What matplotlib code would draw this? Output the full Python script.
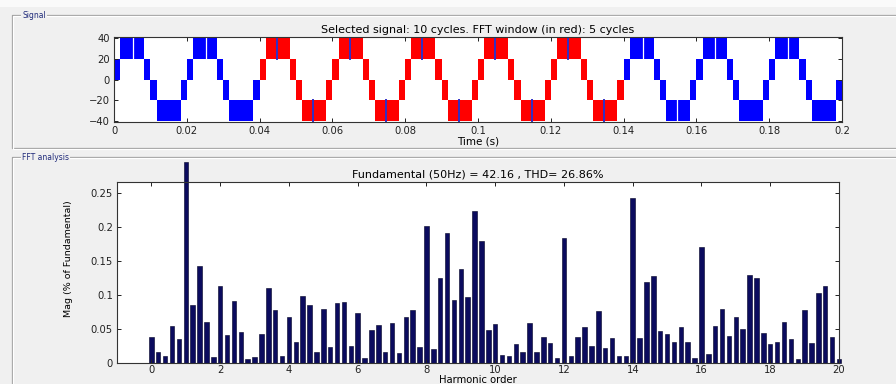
import numpy as np
import matplotlib
matplotlib.use("Agg")
import matplotlib.pyplot as plt
from matplotlib.lines import Line2D
from matplotlib.patches import Rectangle

# ---------------- data ----------------
# Signal: 10 cycles of 50 Hz multilevel PWM waveform (levels -40..40)
cycle_starts = [0.00, 0.02, 0.04, 0.06, 0.08, 0.10, 0.12, 0.14, 0.16, 0.18]
cycle_in_window = [False, False, True, True, True, True, True, False, False, False]
# switching bands within one cycle (ms) and the two levels the PWM chatters between
band_start_ms = [0.0, 1.7, 8.3, 10.0, 11.7, 18.3]
band_end_ms = [1.7, 8.3, 10.0, 11.7, 18.3, 20.0]
band_low = [0, 20, 0, -20, -40, -20]
band_high = [20, 40, 20, 0, -20, 0]
# quiet instants inside the peak bands (ms after cycle start)
blue_gap_pos_ms = 5.2
blue_gap_neg_cycle = 7
blue_gap_neg_ms = 14.8
red_mark_pos_ms = 4.7
red_mark_neg_ms = 14.7

# FFT: harmonic order 0..20 in steps of 0.2
harmonic_order = np.round(np.arange(101) * 0.2, 1)
mag_pct = [
    0.039, 0.017, 0.010, 0.055, 0.036, 0.296, 0.086, 0.143, 0.061, 0.009,
    0.114, 0.041, 0.092, 0.046, 0.007, 0.009, 0.043, 0.110, 0.078, 0.010,
    0.068, 0.032, 0.099, 0.085, 0.017, 0.080, 0.024, 0.088, 0.090, 0.025,
    0.074, 0.008, 0.049, 0.056, 0.016, 0.059, 0.015, 0.068, 0.079, 0.024,
    0.202, 0.021, 0.126, 0.192, 0.093, 0.139, 0.098, 0.224, 0.180, 0.049,
    0.058, 0.012, 0.010, 0.028, 0.016, 0.059, 0.017, 0.038, 0.030, 0.008,
    0.184, 0.010, 0.038, 0.053, 0.025, 0.077, 0.022, 0.037, 0.010, 0.011,
    0.243, 0.037, 0.119, 0.128, 0.048, 0.043, 0.031, 0.053, 0.032, 0.008,
    0.171, 0.014, 0.055, 0.080, 0.040, 0.068, 0.050, 0.130, 0.126, 0.044,
    0.029, 0.032, 0.061, 0.035, 0.006, 0.078, 0.030, 0.103, 0.113, 0.038,
    0.007,
]

sig_title = "Selected signal: 10 cycles. FFT window (in red): 5 cycles"
fft_title = "Fundamental (50Hz) = 42.16 , THD= 26.86%"
time_ticks = [0, 0.02, 0.04, 0.06, 0.08, 0.1, 0.12, 0.14, 0.16, 0.18, 0.2]
time_ticklabels = ["0", "0.02", "0.04", "0.06", "0.08", "0.1", "0.12", "0.14", "0.16", "0.18", "0.2"]
sig_yticks = [-40, -20, 0, 20, 40]
harm_ticks = [0, 2, 4, 6, 8, 10, 12, 14, 16, 18, 20]
mag_ticks = [0, 0.05, 0.1, 0.15, 0.2, 0.25]
mag_ticklabels = ["0", "0.05", "0.1", "0.15", "0.2", "0.25"]

# ---------------- figure ----------------
W, H = 896, 384
BG = "#f0f0f0"
plt.rcParams["font.family"] = ["DejaVu Sans"]
fig = plt.figure(figsize=(W / 100, H / 100), dpi=100, facecolor=BG)

def fx(px):
    return px / W

def fy(py):
    return 1 - py / H

# light strip at very top
fig.add_artist(Rectangle((0, fy(7)), 1, 1 - fy(7), transform=fig.transFigure,
                         facecolor="#fafafa", edgecolor="none"))

# panel frames (etched look)
def frame(x0, y0, x1, y1, label, lx):
    for off, col in ((0, "#a0a0a0"), (1, "#ffffff")):
        xs = [fx(x1), fx(x0 + off), fx(x0 + off), fx(x1)]
        ys = [fy(y0 + off), fy(y0 + off), fy(y1 + off), fy(y1 + off)]
        fig.add_artist(Line2D(xs, ys, color=col, lw=0.9, transform=fig.transFigure))
    fig.text(fx(lx), fy(y0), label, fontsize=5.5, color="#1f2a7a", va="center", ha="left",
             bbox=dict(facecolor=BG, edgecolor="none", pad=1.0))

frame(12, 15, 900, 148, "Signal", 22)
frame(12, 157, 900, 392, "FFT analysis", 22)

# ---------------- signal axes ----------------
ax1 = fig.add_axes([fx(114), fy(122.3), fx(842) - fx(114), fy(36.7) - fy(122.3)])
for t0, inwin in zip(cycle_starts, cycle_in_window):
    col = "#ff0000" if inwin else "#0000ff"
    for a, b, lo, hi in zip(band_start_ms, band_end_ms, band_low, band_high):
        ax1.fill_between([t0 + a / 1000, t0 + b / 1000], lo, hi, color=col, lw=0)
for i, (t0, inwin) in enumerate(zip(cycle_starts, cycle_in_window)):
    if inwin:
        ax1.plot([t0 + red_mark_pos_ms / 1000] * 2, [20, 40], color="#3030c8", lw=1.4)
        ax1.plot([t0 + red_mark_neg_ms / 1000] * 2, [-40, -20], color="#3030c8", lw=1.4)
    else:
        ax1.plot([t0 + blue_gap_pos_ms / 1000] * 2, [20, 40], color="white", lw=0.9)
        if i == blue_gap_neg_cycle:
            ax1.plot([t0 + blue_gap_neg_ms / 1000] * 2, [-40, -20], color="white", lw=0.9)

ax1.set_xlim(0, 0.2)
ax1.set_ylim(-41.5, 41.5)
ax1.set_xticks(time_ticks)
ax1.set_xticklabels(time_ticklabels)
ax1.set_yticks(sig_yticks)
ax1.set_title(sig_title, fontsize=8, pad=3)

# ---------------- FFT axes ----------------
ax2 = fig.add_axes([fx(117), fy(363.3), fx(839) - fx(117), fy(182) - fy(363.3)])
bars = ax2.bar(harmonic_order, mag_pct, width=0.13, color="#0b0b5e", edgecolor="#000022", lw=0.4)
for b in bars:
    b.set_clip_on(False)
ax2.set_xlim(-1, 20)
ax2.set_ylim(0, 0.2666)
ax2.set_xticks(harm_ticks)
ax2.set_yticks(mag_ticks)
ax2.set_yticklabels(mag_ticklabels)
ax2.set_title(fft_title, fontsize=8, pad=3)
ax2.set_ylabel("Mag (% of Fundamental)", fontsize=6.8)
ax2.yaxis.set_label_coords((73 - 117) / 722, (363.3 - 259) / 181.3)

for ax in (ax1, ax2):
    ax.set_facecolor("white")
    ax.tick_params(direction="in", length=3, width=0.7, top=True, right=True,
                   labelsize=7.2, colors="#222222", pad=3)
    for s in ax.spines.values():
        s.set_linewidth(0.8)
        s.set_color("#333333")
ax2.tick_params(axis="x", pad=1.5)

ax1.set_xlabel("Time (s)", fontsize=7.5, labelpad=0)
ax2.set_xlabel("Harmonic order", fontsize=7.2, labelpad=0)

fig.savefig("out.png", dpi=100, facecolor=BG)
